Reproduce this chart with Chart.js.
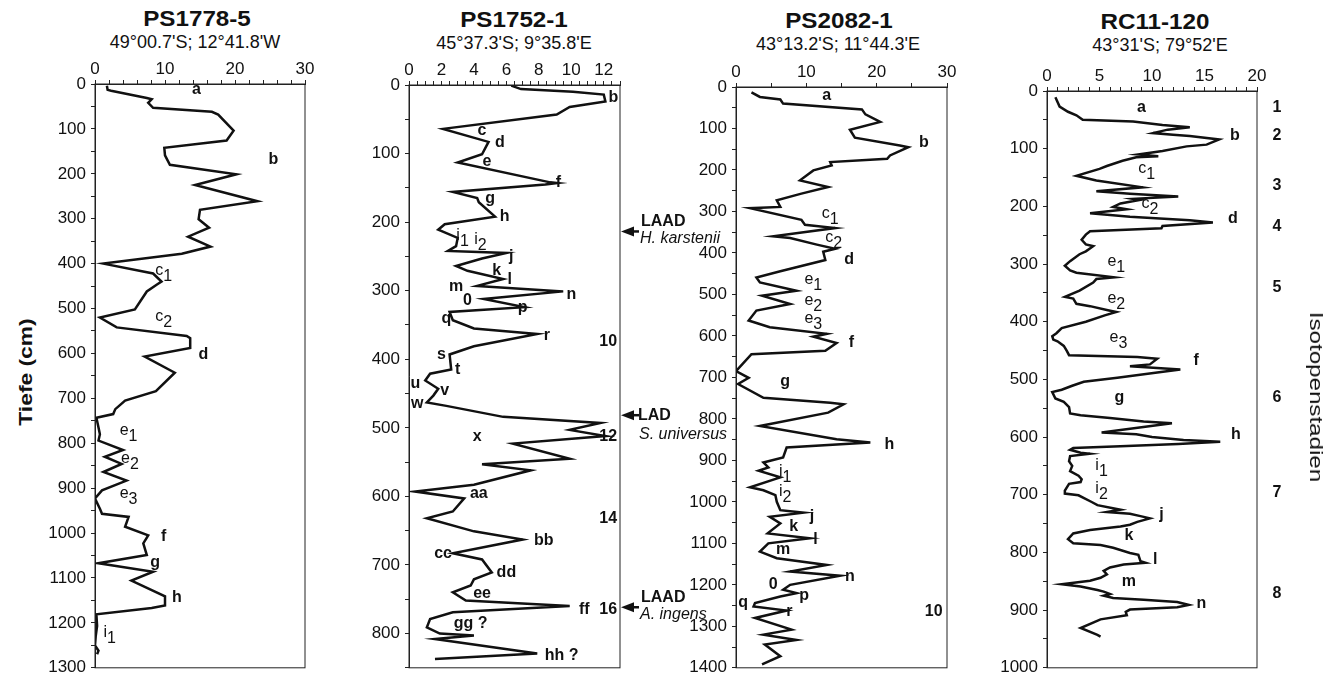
<!DOCTYPE html>
<html>
<head>
<meta charset="utf-8">
<script src="https://cdn.jsdelivr.net/npm/chart.js@4.4.1/dist/chart.umd.min.js"></script>
<style>
  body { margin: 0; background: #fff; width: 1333px; height: 683px; overflow: hidden; position: relative;
         font-family: "Liberation Sans", Arial, sans-serif; color: #111; }
  canvas { position: absolute; top: 55px; }
  .title { position: absolute; transform: translate(-50%, -50%) scaleX(1.1); font-weight: bold; font-size: 22px; white-space: nowrap; }
  .sub { position: absolute; transform: translate(-50%, -50%); font-size: 18px; white-space: nowrap; }
  .side { position: absolute; white-space: nowrap; z-index: 2; }
</style>
</head>
<body>

<div class="title" style="left:197px; top:19px">PS1778-5</div>
<div class="sub" style="left:195px; top:42px">49°00.7'S; 12°41.8'W</div>
<div class="title" style="left:514px; top:20px">PS1752-1</div>
<div class="sub" style="left:514px; top:43px">45°37.3'S; 9°35.8'E</div>
<div class="title" style="left:839px; top:21px">PS2082-1</div>
<div class="sub" style="left:838px; top:44px">43°13.2'S; 11°44.3'E</div>
<div class="title" style="left:1155px; top:22px">RC11-120</div>
<div class="sub" style="left:1160px; top:45px">43°31'S; 79°52'E</div>

<div class="side" style="left:26px; top:372px; font-weight:bold; font-size:19px; transform:translate(-50%,-50%) rotate(-90deg) scaleX(1.2)">Tiefe (cm)</div>
<div class="side" style="left:1316px; top:397px; font-size:19px; transform:translate(-50%,-50%) rotate(90deg) scaleX(1.27)">Isotopenstadien</div>

<canvas id="ps1778" width="290" height="628" style="left:40px"></canvas>
<canvas id="ps1752" width="395" height="628" style="left:345px"></canvas>
<canvas id="ps2082" width="300" height="628" style="left:680px"></canvas>
<canvas id="rc11" width="343" height="628" style="left:990px"></canvas>

<script>
const FONT = '"Liberation Sans", Arial, sans-serif';
Chart.defaults.font.family = FONT;
Chart.defaults.color = '#111';

// PS1778-5
const ps1778Depth = [4, 13, 15, 31, 34, 42, 53, 62, 68, 104, 126, 142, 159, 180, 201, 225, 261, 280, 301, 320,
  340, 362, 378, 400, 422, 440, 447, 462, 502, 520, 542, 561, 566, 588, 607, 643, 684, 705, 724, 735,
  743, 765, 780, 794, 815, 830, 846, 864, 883, 905, 923, 946, 957, 964, 986, 1005, 1023, 1049, 1067, 1086,
  1106, 1141, 1161, 1167, 1181, 1207, 1230, 1250, 1262, 1270];
const ps1778Value = [1.7, 1.8, 2.3, 7.4, 8.1, 7.6, 8.3, 16.7, 17.6, 19.8, 18.8, 9.9, 10.0, 10.7, 20.2, 14.3, 23.2, 15.0, 14.8, 16.3,
  13.3, 16.5, 12.4, 1.2, 8.3, 9.5, 8.8, 7.4, 5.7, 0.7, 3.1, 13.1, 13.6, 13.6, 7.1, 11.4, 8.7, 4.3, 2.9, 2.6,
  0.2, 0.5, 0.7, 0.5, 4.0, 1.4, 3.8, 1.2, 4.5, 1.0, 0.0, 0.7, 1.0, 4.8, 4.3, 7.6, 6.9, 7.4, 0.5, 8.3,
  5.2, 10.0, 10.0, 8.1, 0.2, 0.3, 0.1, 0.0, 0.5, 0.3];
const ps1778Labels = [['a', 14.5, 12], ['b', 25.5, 168], ['c_1', 9.8, 419], ['c_2', 9.8, 522], ['d', 15.5, 603],
  ['e_1', 4.8, 776], ['e_2', 5.0, 839], ['e_3', 4.8, 916], ['f', 9.8, 1008], ['g', 8.6, 1066], ['h', 11.7, 1143],
  ['i_1', 2.1, 1226]];

// PS1752-1
const ps1752Depth = [1, 6, 10, 14, 24, 32, 43, 64, 83, 101, 113, 142, 143, 145, 156, 165, 171, 192, 203, 211,
  223, 235, 242, 245, 253, 264, 271, 283, 293, 301, 312, 324, 331, 343, 355, 363, 381, 393, 415, 421,
  431, 443, 453, 463, 468, 484, 493, 503, 512, 523, 545, 553, 562, 583, 593, 603, 622, 632, 651, 663,
  683, 692, 711, 721, 730, 740, 752, 760, 769, 779, 791, 800, 803, 808, 829, 837];
const ps1752Value = [6.3, 6.9, 10.1, 12.0, 12.1, 9.9, 9.1, 2.1, 4.9, 4.5, 3.0, 8.7, 9.1, 8.4, 2.7, 4.2, 4.3, 5.3, 2.2, 1.8,
  3.0, 2.9, 2.4, 6.0, 4.5, 2.9, 3.6, 5.8, 4.2, 9.5, 4.6, 7.1, 2.5, 2.7, 4.0, 7.9, 4.0, 2.5, 2.6, 1.3,
  1.0, 1.8, 1.5, 1.1, 2.3, 5.8, 11.8, 9.9, 12.1, 6.4, 9.9, 4.5, 7.5, 4.0, 0.4, 3.4, 2.7, 1.1, 4.0, 7.0,
  2.7, 4.5, 5.1, 4.0, 3.8, 2.7, 3.5, 9.9, 2.7, 1.3, 1.1, 1.9, 4.0, 1.6, 7.9, 1.6];
const ps1752Labels = [['b', 12.6, 19], ['c', 4.5, 67], ['d', 5.6, 84], ['e', 4.8, 111], ['f', 9.2, 142],
  ['g', 5.0, 165], ['h', 5.9, 192], ['i_1', 3.3, 222], ['i_2', 4.4, 229], ['j', 6.3, 250], ['k', 5.4, 270],
  ['l', 6.2, 284], ['m', 2.9, 294], ['n', 10.0, 306], ['0', 3.6, 314], ['p', 7.0, 325], ['q', 2.3, 340],
  ['r', 8.5, 366], ['s', 2.0, 393], ['t', 3.0, 415], ['u', 0.4, 436], ['v', 2.2, 446], ['w', 0.5, 464],
  ['x', 4.2, 513], ['aa', 4.3, 596], ['bb', 8.3, 664], ['cc', 2.1, 684], ['dd', 6.0, 711], ['ee', 4.5, 742],
  ['ff', 10.8, 765], ['gg ?', 3.8, 786], ['hh ?', 9.4, 832]];
const ps1752Stages = [['10', 12.82, 374], ['12', 12.82, 513], ['14', 12.82, 632], ['16', 12.82, 765]];
const ps1752MarkerDepth = [213.6, 481.6, 761.7];
const ps1752MarkerKind = ['LAAD', 'LAD', 'LAAD'];
const ps1752MarkerTaxon = ['H. karstenii', 'S. universus', 'A. ingens'];

// PS2082-1
const ps2082Depth = [13, 24, 30, 40, 54, 66, 84, 103, 122, 141, 145, 165, 173, 181, 189, 201, 225, 241, 257, 273,
  289, 292, 320, 332, 340, 360, 364, 380, 390, 397, 417, 444, 459, 471, 491, 503, 523, 539, 563, 579,
  595, 602, 617, 636, 644, 685, 701, 716, 749, 761, 765, 785, 817, 849, 857, 869, 893, 905, 917, 925,
  941, 965, 972, 984, 1000, 1020, 1026, 1036, 1052, 1076, 1088, 1100, 1120, 1136, 1152, 1168, 1178, 1200, 1212, 1220,
  1228, 1244, 1252, 1262, 1280, 1308, 1320, 1333, 1344, 1372, 1392];
const ps2082Value = [2.2, 3.4, 6.3, 6.7, 17.9, 18.4, 20.5, 16.2, 16.9, 23.3, 24.5, 21.9, 21.5, 13.4, 13.6, 11.0, 9.1, 13.1, 9.3, 5.8,
  6.3, 2.0, 9.3, 9.8, 14.1, 5.3, 7.7, 11.5, 14.1, 12.4, 12.7, 6.3, 2.9, 3.4, 8.6, 3.7, 7.7, 2.9, 1.8, 4.8,
  12.9, 11.0, 14.3, 12.7, 2.2, 0.0, 1.8, 0.3, 3.9, 13.4, 15.3, 13.1, 3.4, 14.3, 19.1, 7.2, 6.7, 3.9, 4.6, 3.2,
  6.3, 2.0, 3.9, 5.6, 5.8, 6.3, 9.6, 4.8, 6.3, 4.5, 10.5, 4.6, 3.4, 5.8, 12.9, 7.7, 14.8, 7.7, 6.7, 8.6,
  6.3, 2.7, 2.5, 7.2, 2.7, 7.9, 3.9, 8.6, 4.1, 6.3, 3.7];
const ps2082Labels = [['a', 12.9, 21], ['b', 26.7, 133], ['c_1', 13.4, 310], ['c_2', 13.9, 367], ['d', 16.1, 415],
  ['e_1', 11.0, 468], ['e_2', 11.0, 519], ['e_3', 11.0, 564], ['f', 16.4, 617], ['g', 7.0, 709], ['h', 21.8, 861],
  ['i_1', 7.0, 933], ['i_2', 7.0, 981], ['j', 10.8, 1036], ['k', 8.2, 1059], ['l', 11.3, 1092], ['m', 6.7, 1116],
  ['n', 16.2, 1180], ['0', 5.3, 1200], ['p', 9.7, 1226], ['q', 1.0, 1244], ['r', 7.6, 1264], ['10', 28.1, 1264]];

// RC11-120
const rc11Depth = [11, 27, 36, 42, 50, 53, 59, 63, 67, 73, 76, 78, 84, 93, 96, 104, 110, 113, 115, 121,
  130, 135, 147, 155, 167, 174, 178, 183, 187, 189, 195, 201, 205, 212, 218, 224, 228, 234, 238, 243,
  249, 258, 266, 269, 278, 283, 295, 303, 311, 315, 323, 326, 332, 346, 357, 360, 369, 373, 380, 383,
  389, 400, 411, 420, 425, 431, 434, 442, 451, 458, 461, 464, 474, 477, 483, 488, 497, 504, 511, 518,
  522, 533, 539, 548, 559, 562, 567, 573, 576, 583, 592, 595, 600, 605, 608, 612, 616, 619, 622, 627,
  629, 633, 642, 650, 659, 667, 673, 678, 681, 693, 698, 701, 713, 718, 726, 730, 733, 737, 741, 747,
  752, 755, 761, 767, 777, 784, 787, 792, 801, 804, 815, 818, 821, 826, 832, 838, 844, 849, 855, 859,
  865, 868, 872, 875, 879, 882, 886, 891, 895, 899, 903, 909, 916, 931, 943, 946];
const rc11Value = [0.8, 1.2, 2.0, 2.8, 3.4, 8.2, 11.0, 13.6, 11.5, 10.1, 12.0, 13.6, 16.4, 15.2, 13.3, 11.0, 8.7, 10.6, 8.5, 7.2,
  5.7, 5.0, 2.8, 4.7, 9.1, 4.7, 7.9, 12.5, 8.2, 8.8, 7.0, 6.3, 7.6, 4.1, 7.9, 13.6, 15.8, 11.0, 10.9, 4.1,
  3.7, 3.3, 3.7, 4.4, 3.7, 3.1, 2.2, 1.7, 2.2, 2.8, 6.4, 4.7, 4.4, 3.1, 1.7, 2.5, 2.8, 4.1, 5.8, 6.6,
  5.5, 3.7, 1.4, 0.9, 0.5, 0.6, 1.0, 1.6, 1.9, 2.1, 8.6, 10.5, 9.8, 7.9, 12.7, 10.5, 6.7, 3.5, 2.4, 1.4,
  0.5, 0.8, 1.6, 2.1, 2.2, 3.2, 6.0, 9.2, 11.9, 9.0, 5.2, 8.5, 10.0, 13.0, 16.5, 12.5, 7.0, 2.5, 2.2, 3.2,
  4.1, 2.2, 2.1, 2.4, 2.2, 3.0, 3.3, 3.2, 2.1, 1.7, 1.7, 3.0, 4.3, 4.8, 7.0, 5.7, 7.9, 8.9, 9.8, 8.6,
  7.9, 7.0, 4.1, 2.5, 2.0, 2.5, 5.1, 6.3, 7.9, 8.7, 8.9, 9.4, 7.3, 6.0, 5.4, 5.7, 5.1, 4.1, 1.4, 3.2,
  4.8, 5.4, 6.0, 5.4, 6.3, 9.2, 12.4, 13.5, 12.4, 7.9, 7.5, 7.6, 5.1, 3.2, 4.8, 5.1];
const rc11Labels = [['a', 9.0, 28], ['b', 17.9, 77], ['c_1', 9.5, 138], ['c_2', 9.8, 199], ['d', 17.7, 222],
  ['e_1', 6.6, 300], ['e_2', 6.6, 363], ['e_3', 6.8, 431], ['f', 14.2, 468], ['g', 6.9, 531], ['h', 18.0, 595],
  ['i_1', 5.2, 653], ['i_2', 5.2, 693], ['j', 10.9, 734], ['k', 7.8, 771], ['l', 10.3, 812], ['m', 7.8, 851],
  ['n', 14.7, 889]];
const rc11Stages = [['1', 21.9, 28], ['2', 21.9, 77], ['3', 21.9, 164], ['4', 21.9, 235], ['5', 21.9, 340],
  ['6', 21.9, 531], ['7', 21.9, 697], ['8', 21.9, 871]];

function isMajor(v, major) {
  const r = v / major;
  return Math.abs(r - Math.round(r)) < 1e-6;
}

// box around the plot area
const framePlugin = {
  id: 'frame',
  afterDraw(chart) {
    const { ctx, chartArea: { left, top, right, bottom } } = chart;
    ctx.save();
    ctx.strokeStyle = '#222';
    ctx.lineWidth = 1;
    ctx.strokeRect(left, top, right - left, bottom - top);
    ctx.restore();
  }
};

// letter labels (a, b, c_1 ...) placed in data units
function textLabels(labels, extra) {
  return {
    id: 'textLabels',
    afterDatasetsDraw(chart) {
      const { ctx, scales: { x, y } } = chart;
      ctx.save();
      ctx.fillStyle = '#111';
      ctx.textBaseline = 'middle';
      labels.forEach(([text, v, d, align]) => {
        const px = x.getPixelForValue(v);
        const py = y.getPixelForValue(d);
        const [main, sub] = text.split('_');
        if (sub) {
          ctx.font = '16px ' + FONT;
          const w1 = ctx.measureText(main).width;
          const w2 = ctx.measureText(sub).width;
          const left = px - (w1 + w2) / 2;
          ctx.textAlign = 'left';
          ctx.fillText(main, left, py - 2);
          ctx.fillText(sub, left + w1, py + 4);
        } else {
          ctx.font = 'bold 16px ' + FONT;
          ctx.textAlign = align || 'center';
          ctx.fillText(main, px, py);
        }
      });
      ctx.restore();
      if (extra) extra(chart);
    }
  };
}

// LAD / LAAD arrows beside the PS1752-1 column
function drawMarkers(chart) {
  const { ctx, chartArea, scales: { y } } = chart;
  const r = chartArea.right;
  ctx.save();
  ctx.fillStyle = '#111';
  ctx.strokeStyle = '#111';
  ps1752MarkerDepth.forEach((d, i) => {
    const py = y.getPixelForValue(d);
    ctx.beginPath();
    ctx.moveTo(r + 1, py);
    ctx.lineTo(r + 14, py - 5);
    ctx.lineTo(r + 14, py + 5);
    ctx.closePath();
    ctx.fill();
    ctx.lineWidth = 2.5;
    ctx.beginPath();
    ctx.moveTo(r + 12, py);
    ctx.lineTo(r + 19, py);
    ctx.stroke();
    ctx.textAlign = 'left';
    ctx.textBaseline = 'middle';
    ctx.font = 'bold 16px ' + FONT;
    if (ps1752MarkerKind[i] === 'LAD') {
      ctx.fillText(ps1752MarkerKind[i], r + 18, py);
      ctx.font = 'italic 16px ' + FONT;
      ctx.fillText(ps1752MarkerTaxon[i], r + 19, py + 19);
    } else {
      ctx.fillText(ps1752MarkerKind[i], r + 21, py - 10);
      ctx.font = 'italic 16px ' + FONT;
      ctx.fillText(ps1752MarkerTaxon[i], r + 20, py + 7);
    }
  });
  ctx.restore();
}

function makeCore(id, cfg) {
  const points = cfg.depth.map((d, i) => ({ x: cfg.value[i], y: d }));
  const tickFont = { size: 17 };
  return new Chart(document.getElementById(id), {
    type: 'scatter',
    data: {
      datasets: [{
        data: points,
        showLine: true,
        borderColor: '#111',
        borderWidth: 2.5,
        pointRadius: 0,
        pointHoverRadius: 0,
        tension: 0,
        fill: false
      }]
    },
    options: {
      responsive: false,
      animation: false,
      events: [],
      layout: { padding: { left: 0, top: 0, right: cfg.padRight, bottom: cfg.padBottom } },
      plugins: { legend: { display: false }, tooltip: { enabled: false } },
      scales: {
        x: {
          type: 'linear', position: 'top', min: 0, max: cfg.xMax,
          ticks: {
            stepSize: cfg.xStep, maxTicksLimit: 1000, autoSkip: false, includeBounds: false,
            maxRotation: 0, minRotation: 0, padding: 0, color: '#111', font: tickFont,
            callback: v => isMajor(v, cfg.xMajor) ? v : ''
          },
          grid: { drawOnChartArea: false, drawTicks: true, tickLength: 4, color: '#222' },
          border: { display: true, color: '#222', width: 1 },
          afterFit: s => { s.height = cfg.xAxisHeight; }
        },
        y: {
          type: 'linear', reverse: true, min: 0, max: cfg.yMax,
          ticks: {
            stepSize: 50, maxTicksLimit: 1000, autoSkip: false, includeBounds: false,
            padding: 5, color: '#111', font: tickFont,
            callback: v => isMajor(v, 100) ? v : ''
          },
          grid: { drawOnChartArea: false, drawTicks: true, tickLength: 4, color: '#222' },
          border: { display: true, color: '#222', width: 1 },
          afterFit: s => { s.width = cfg.yAxisWidth; }
        }
      }
    },
    plugins: [framePlugin, textLabels(cfg.labels, cfg.extra)]
  });
}

makeCore('ps1778', {
  depth: ps1778Depth, value: ps1778Value, labels: ps1778Labels,
  xMax: 30, xStep: 2, xMajor: 10, yMax: 1300,
  yAxisWidth: 55, xAxisHeight: 29, padRight: 25, padBottom: 11
});

makeCore('ps1752', {
  depth: ps1752Depth, value: ps1752Value,
  labels: ps1752Labels.concat(ps1752Stages.map(s => [s[0], s[1], s[2], 'right'])),
  extra: drawMarkers,
  xMax: 13, xStep: 0.5, xMajor: 2, yMax: 850,
  yAxisWidth: 64, xAxisHeight: 30, padRight: 120, padBottom: 11
});

makeCore('ps2082', {
  depth: ps2082Depth, value: ps2082Value, labels: ps2082Labels,
  xMax: 30, xStep: 5, xMajor: 10, yMax: 1400,
  yAxisWidth: 56, xAxisHeight: 32, padRight: 33, padBottom: 11
});

makeCore('rc11', {
  depth: rc11Depth, value: rc11Value, labels: rc11Labels.concat(rc11Stages),
  xMax: 20, xStep: 1, xMajor: 5, yMax: 1000,
  yAxisWidth: 57, xAxisHeight: 36, padRight: 76, padBottom: 10
});
</script>
</body>
</html>
